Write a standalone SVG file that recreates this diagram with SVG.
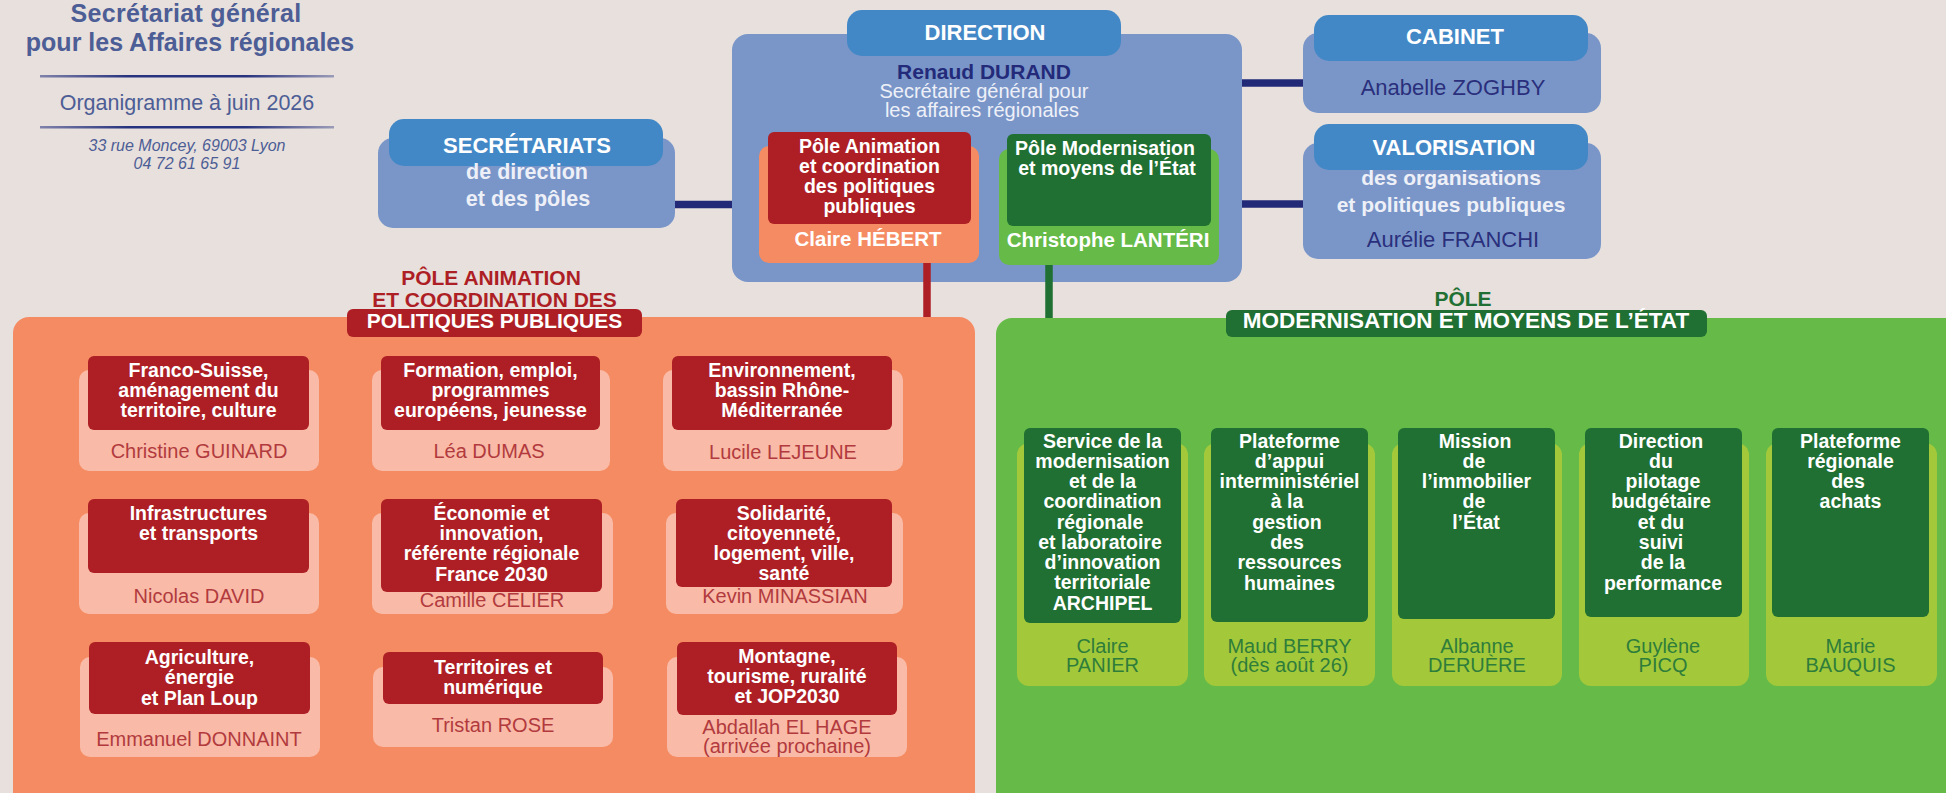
<svg xmlns="http://www.w3.org/2000/svg" width="1946" height="793" viewBox="0 0 1946 793">
<defs>
<linearGradient id="rule" x1="0" x2="1" y1="0" y2="0">
<stop offset="0" stop-color="#2b3680" stop-opacity="0.55"/>
<stop offset="0.3" stop-color="#27337e"/>
<stop offset="0.7" stop-color="#27337e"/>
<stop offset="1" stop-color="#2b3680" stop-opacity="0.4"/>
</linearGradient>
<style>
text{font-family:"Liberation Sans",Arial,sans-serif;text-anchor:middle}
.ttl{font-size:25px;font-weight:bold;fill:#4d5d95}
.sub{font-size:21.5px;fill:#4d5d95}
.addr{font-size:16px;font-style:italic;fill:#4d5d95}
.box{fill:#7a96c8}
.hdr{fill:#4388c6}
.hw{font-size:22px;font-weight:bold;fill:#ffffff}
.hl{font-size:21.5px;font-weight:bold;fill:#eef0f8}
.navyb{font-size:21px;font-weight:bold;fill:#232a7a}
.navy{font-size:22px;fill:#2a2f7c}
.light{font-size:20px;fill:#eef0f8}
.wb{font-size:19.5px;font-weight:bold;fill:#ffffff}
.wn{font-size:20.5px;font-weight:bold;fill:#ffffff}
.opanel{fill:#f58b62}
.gpanel{fill:#66bb48}
.red{fill:#ae1f25}
.dg{fill:#1f7032}
.pink{fill:#f9bba7}
.lime{fill:#a3c93a}
.ct{font-size:19.5px;font-weight:bold;fill:#ffffff}
.rn{font-size:20px;fill:#b23a3e}
.gn{font-size:20px;fill:#2f7d3a}
.headr{font-size:21px;font-weight:bold;fill:#ae1f25}
.headg{font-size:21px;font-weight:bold;fill:#1f7032}
.headw{font-size:21px;font-weight:bold;fill:#ffffff}
.conn{fill:none;stroke-width:7.5}
</style>
</defs>
<rect x="0" y="0" width="1946" height="793" fill="#e7e0dd"/>

<g id="title">
<text class="ttl" x="186" y="22" style="letter-spacing:0.3px">Secrétariat général</text>
<text class="ttl" x="190" y="51">pour les Affaires régionales</text>
<rect x="40" y="75" width="294" height="2.5" fill="url(#rule)"/>
<text class="sub" x="187" y="110">Organigramme à juin 2026</text>
<rect x="40" y="126" width="294" height="2.5" fill="url(#rule)"/>
<text class="addr" x="187" y="151">33 rue Moncey, 69003 Lyon</text>
<text class="addr" x="187" y="169">04 72 61 65 91</text>
</g>

<g id="secretariats">
<rect class="box" x="378" y="138" width="297" height="90" rx="15"/>
<rect class="hdr" x="389" y="119" width="274" height="47" rx="15"/>
<text class="hw" x="527" y="153">SECRÉTARIATS</text>
<text class="hl" x="527" y="179">de direction</text>
<text class="hl" x="528" y="206">et des pôles</text>
</g>

<g id="direction">
<rect class="box" x="732" y="34" width="510" height="248" rx="16"/>
<rect class="hdr" x="847" y="10" width="274" height="46" rx="15"/>
<text class="hw" x="985" y="40">DIRECTION</text>
<text class="navyb" x="984" y="79">Renaud DURAND</text>
<text class="light" x="984" y="98">Secrétaire général pour</text>
<text class="light" x="982" y="117">les affaires régionales</text>
</g>

<g id="dir-pole-animation">
<rect class="opanel" x="759" y="146" width="220" height="117" rx="10"/>
<rect class="red" x="768" y="132" width="203" height="92" rx="6"/>
<text class="wb" x="869.5" y="153">Pôle Animation</text>
<text class="wb" x="869.5" y="173">et coordination</text>
<text class="wb" x="869.5" y="193">des politiques</text>
<text class="wb" x="869.5" y="213">publiques</text>
<text class="wn" x="868" y="246">Claire HÉBERT</text>
</g>

<g id="dir-pole-modernisation">
<rect class="gpanel" x="999" y="149" width="220" height="116" rx="10"/>
<rect class="dg" x="1007" y="134" width="204" height="92" rx="6"/>
<text class="wb" x="1105" y="155">Pôle Modernisation</text>
<text class="wb" x="1107" y="175">et moyens de l’État</text>
<text class="wn" x="1108" y="247">Christophe LANTÉRI</text>
</g>

<g id="cabinet">
<rect class="box" x="1303" y="33" width="298" height="80" rx="15"/>
<rect class="hdr" x="1314" y="15" width="274" height="46" rx="15"/>
<text class="hw" x="1455" y="44">CABINET</text>
<text class="navy" x="1453" y="95">Anabelle ZOGHBY</text>
</g>

<g id="valorisation">
<rect class="box" x="1303" y="143" width="298" height="116" rx="15"/>
<rect class="hdr" x="1314" y="124" width="274" height="46" rx="15"/>
<text class="hw" x="1454" y="155">VALORISATION</text>
<text class="hl" x="1451" y="185" style="font-size:21px">des organisations</text>
<text class="hl" x="1451" y="212" style="font-size:21px">et politiques publiques</text>
<text class="navy" x="1453" y="247">Aurélie FRANCHI</text>
</g>

<g id="pole-animation">
<rect class="opanel" x="13" y="317" width="962" height="500" rx="16"/>
<text class="headr" x="491" y="285">PÔLE ANIMATION</text>
<text class="headr" x="494.5" y="307">ET COORDINATION DES</text>
<rect class="red" x="347" y="309" width="295" height="28" rx="6"/>
<text class="headw" x="494.5" y="328">POLITIQUES PUBLIQUES</text>
</g>

<g id="franco-suisse">
<rect class="pink" x="79" y="370" width="240" height="101" rx="10"/>
<rect class="red" x="88" y="356" width="221" height="74" rx="6"/>
<text class="ct" x="198.5" y="377">Franco-Suisse,</text>
<text class="ct" x="198.5" y="397">aménagement du</text>
<text class="ct" x="198.5" y="417">territoire, culture</text>
<text class="rn" x="199" y="458">Christine GUINARD</text>
</g>

<g id="formation">
<rect class="pink" x="372" y="370" width="238" height="101" rx="10"/>
<rect class="red" x="381" y="356" width="219" height="74" rx="6"/>
<text class="ct" x="490.5" y="377">Formation, emploi,</text>
<text class="ct" x="490.5" y="397">programmes</text>
<text class="ct" x="490.5" y="417">européens, jeunesse</text>
<text class="rn" x="489" y="458">Léa DUMAS</text>
</g>

<g id="environnement">
<rect class="pink" x="663" y="370" width="240" height="101" rx="10"/>
<rect class="red" x="672" y="356" width="220" height="74" rx="6"/>
<text class="ct" x="782" y="377">Environnement,</text>
<text class="ct" x="782" y="397">bassin Rhône-</text>
<text class="ct" x="782" y="417">Méditerranée</text>
<text class="rn" x="783" y="459">Lucile LEJEUNE</text>
</g>

<g id="infrastructures">
<rect class="pink" x="79" y="513" width="240" height="101" rx="10"/>
<rect class="red" x="88" y="499" width="221" height="74" rx="6"/>
<text class="ct" x="198.5" y="520">Infrastructures</text>
<text class="ct" x="198.5" y="540">et transports</text>
<text class="rn" x="199" y="603">Nicolas DAVID</text>
</g>

<g id="economie">
<rect class="pink" x="372" y="513" width="241" height="101" rx="10"/>
<rect class="red" x="381" y="499" width="221" height="93" rx="6"/>
<text class="ct" x="491.5" y="520">Économie et</text>
<text class="ct" x="491.5" y="540">innovation,</text>
<text class="ct" x="491.5" y="560">référente régionale</text>
<text class="ct" x="491.5" y="581">France 2030</text>
<text class="rn" x="492" y="607">Camille CELIER</text>
</g>

<g id="solidarite">
<rect class="pink" x="666" y="513" width="237" height="101" rx="10"/>
<rect class="red" x="676" y="499" width="216" height="88" rx="6"/>
<text class="ct" x="784" y="520">Solidarité,</text>
<text class="ct" x="784" y="540">citoyenneté,</text>
<text class="ct" x="784" y="560">logement, ville,</text>
<text class="ct" x="784" y="580">santé</text>
<text class="rn" x="785" y="603">Kevin MINASSIAN</text>
</g>

<g id="agriculture">
<rect class="pink" x="80" y="657" width="240" height="100" rx="10"/>
<rect class="red" x="89" y="642" width="221" height="72" rx="6"/>
<text class="ct" x="199.5" y="664">Agriculture,</text>
<text class="ct" x="199.5" y="684">énergie</text>
<text class="ct" x="199.5" y="705">et Plan Loup</text>
<text class="rn" x="199" y="746">Emmanuel DONNAINT</text>
</g>

<g id="territoires">
<rect class="pink" x="373" y="667" width="240" height="80" rx="10"/>
<rect class="red" x="383" y="652" width="220" height="52" rx="6"/>
<text class="ct" x="493" y="674">Territoires et</text>
<text class="ct" x="493" y="694">numérique</text>
<text class="rn" x="493" y="732">Tristan ROSE</text>
</g>

<g id="montagne">
<rect class="pink" x="667" y="657" width="240" height="100" rx="10"/>
<rect class="red" x="677" y="642" width="220" height="73" rx="6"/>
<text class="ct" x="787" y="663">Montagne,</text>
<text class="ct" x="787" y="683">tourisme, ruralité</text>
<text class="ct" x="787" y="703">et JOP2030</text>
<text class="rn" x="787" y="734">Abdallah EL HAGE</text>
<text class="rn" x="787" y="753">(arrivée prochaine)</text>
</g>

<g id="pole-modernisation">
<rect class="gpanel" x="996" y="318" width="970" height="500" rx="16"/>
<text class="headg" x="1463" y="306">PÔLE</text>
<rect class="dg" x="1226" y="310" width="481" height="27" rx="6"/>
<text class="headw" x="1466" y="328" style="font-size:22.5px">MODERNISATION ET MOYENS DE L’ÉTAT</text>
</g>

<g id="archipel">
<rect class="lime" x="1017" y="443" width="171" height="243" rx="12"/>
<rect class="dg" x="1024" y="428" width="157" height="195" rx="6"/>
<text class="ct" x="1102.5" y="448">Service de la</text>
<text class="ct" x="1102.5" y="468">modernisation</text>
<text class="ct" x="1102.5" y="488">et de la</text>
<text class="ct" x="1102.5" y="508">coordination</text>
<text class="ct" x="1100" y="529">régionale</text>
<text class="ct" x="1100" y="549">et laboratoire</text>
<text class="ct" x="1102.5" y="569">d’innovation</text>
<text class="ct" x="1102.5" y="589">territoriale</text>
<text class="ct" x="1102.5" y="610">ARCHIPEL</text>
<text class="gn" x="1102.5" y="653">Claire</text>
<text class="gn" x="1102.5" y="672">PANIER</text>
</g>

<g id="plateforme-rh">
<rect class="lime" x="1204" y="443" width="171" height="243" rx="12"/>
<rect class="dg" x="1211" y="428" width="157" height="194" rx="6"/>
<text class="ct" x="1289.5" y="448">Plateforme</text>
<text class="ct" x="1289.5" y="468">d’appui</text>
<text class="ct" x="1289.5" y="488">interministériel</text>
<text class="ct" x="1287" y="508">à la</text>
<text class="ct" x="1287" y="529">gestion</text>
<text class="ct" x="1287" y="549">des</text>
<text class="ct" x="1289.5" y="569">ressources</text>
<text class="ct" x="1289.5" y="590">humaines</text>
<text class="gn" x="1289.5" y="653">Maud BERRY</text>
<text class="gn" x="1289.5" y="672">(dès août 26)</text>
</g>

<g id="immobilier">
<rect class="lime" x="1392" y="443" width="170" height="243" rx="12"/>
<rect class="dg" x="1398" y="428" width="157" height="191" rx="6"/>
<text class="ct" x="1475" y="448">Mission</text>
<text class="ct" x="1474" y="468">de</text>
<text class="ct" x="1476.5" y="488">l’immobilier</text>
<text class="ct" x="1474" y="508">de</text>
<text class="ct" x="1476" y="529">l’État</text>
<text class="gn" x="1477" y="653">Albanne</text>
<text class="gn" x="1477" y="672">DERUÈRE</text>
</g>

<g id="pilotage">
<rect class="lime" x="1579" y="443" width="170" height="243" rx="12"/>
<rect class="dg" x="1585" y="428" width="157" height="189" rx="6"/>
<text class="ct" x="1661" y="448">Direction</text>
<text class="ct" x="1661" y="468">du</text>
<text class="ct" x="1663" y="488">pilotage</text>
<text class="ct" x="1661" y="508">budgétaire</text>
<text class="ct" x="1661" y="529">et du</text>
<text class="ct" x="1661" y="549">suivi</text>
<text class="ct" x="1663" y="569">de la</text>
<text class="ct" x="1663" y="590">performance</text>
<text class="gn" x="1663" y="653">Guylène</text>
<text class="gn" x="1663" y="672">PICQ</text>
</g>

<g id="achats">
<rect class="lime" x="1766" y="443" width="171" height="243" rx="12"/>
<rect class="dg" x="1772" y="428" width="157" height="189" rx="6"/>
<text class="ct" x="1850.5" y="448">Plateforme</text>
<text class="ct" x="1850.5" y="468">régionale</text>
<text class="ct" x="1848" y="488">des</text>
<text class="ct" x="1850.5" y="508">achats</text>
<text class="gn" x="1850.5" y="653">Marie</text>
<text class="gn" x="1850.5" y="672">BAUQUIS</text>
</g>

<g id="connectors">
<line class="conn" x1="675" y1="204.5" x2="732" y2="204.5" stroke="#222a78"/>
<line class="conn" x1="1242" y1="83" x2="1303" y2="83" stroke="#222a78" stroke-width="8"/>
<line class="conn" x1="1242" y1="204" x2="1303" y2="204" stroke="#222a78" stroke-width="8"/>
<line class="conn" x1="927" y1="263" x2="927" y2="317" stroke="#ae1f25"/>
<line class="conn" x1="1049" y1="265" x2="1049" y2="318" stroke="#1f7032"/>
</g>
</svg>
